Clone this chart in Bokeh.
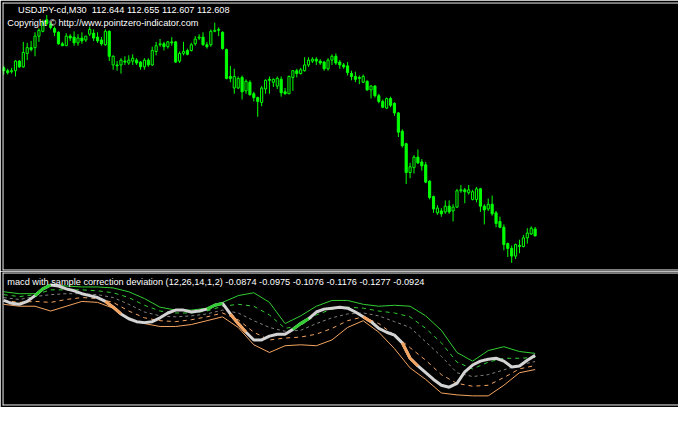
from bokeh.plotting import figure
from bokeh.layouts import column
from bokeh.models import Range1d, Span, Label, ColumnDataSource
from bokeh.embed import file_html
from bokeh.resources import INLINE

# ---------------- data ----------------
title_text = "USDJPY-cd,M30\u00a0 112.644 112.655 112.607 112.608"
copyright_text = "Copyright \u00a9 http://www.pointzero-indicator.com"
osc_label = ("macd with sample correction deviation (12,26,14,1,2) "
             "-0.0874 -0.0975 -0.1076 -0.1176 -0.1277 -0.0924")

opens = [113.483,113.468,113.463,113.468,113.518,113.488,113.558,113.588,113.588,113.648,
113.673,113.733,113.708,113.688,113.668,113.608,113.598,113.648,113.643,113.613,
113.638,113.628,113.658,113.663,113.643,113.628,113.603,113.673,113.498,113.498,
113.498,113.518,113.508,113.518,113.523,113.513,113.488,113.523,113.498,113.568,
113.603,113.608,113.593,113.618,113.618,113.518,113.558,113.573,113.573,113.608,
113.638,113.643,113.603,113.603,113.673,113.678,113.668,113.578,113.438,113.378,
113.378,113.433,113.363,113.408,113.348,113.328,113.303,113.373,113.423,113.408,
113.388,113.423,113.358,113.348,113.433,113.468,113.453,113.468,113.498,113.518,
113.528,113.518,113.513,113.478,113.523,113.543,113.513,113.498,113.493,113.453,
113.438,113.433,113.408,113.413,113.368,113.388,113.338,113.308,113.273,113.323,
113.298,113.248,113.153,113.088,112.938,112.963,113.018,112.993,112.978,112.893,
112.813,112.728,112.738,112.733,112.763,112.738,112.758,112.843,112.848,112.833,
112.798,112.798,112.853,112.763,112.748,112.773,112.728,112.683,112.653,112.568,
112.543,112.503,112.558,112.553,112.598,112.618,112.644]

highs = [113.493,113.478,113.483,113.523,113.523,113.618,113.613,113.623,113.668,113.688,
113.733,113.758,113.723,113.698,113.673,113.618,113.663,113.658,113.673,113.658,
113.668,113.648,113.698,113.683,113.668,113.643,113.683,113.678,113.548,113.518,
113.533,113.543,113.548,113.553,113.533,113.518,113.533,113.533,113.593,113.618,
113.633,113.618,113.623,113.643,113.623,113.568,113.618,113.583,113.613,113.648,
113.658,113.668,113.618,113.683,113.718,113.693,113.673,113.583,113.493,113.478,
113.438,113.443,113.423,113.418,113.358,113.333,113.388,113.423,113.438,113.428,
113.438,113.438,113.378,113.443,113.468,113.478,113.483,113.538,113.538,113.538,
113.538,113.528,113.518,113.533,113.553,113.558,113.523,113.508,113.513,113.468,
113.463,113.443,113.448,113.418,113.393,113.393,113.348,113.318,113.328,113.333,
113.303,113.253,113.163,113.093,112.988,113.028,113.058,113.008,112.993,112.898,
112.818,112.768,112.753,112.793,112.793,112.773,112.853,112.873,112.858,112.873,
112.848,112.863,112.858,112.773,112.803,112.818,112.738,112.708,112.668,112.573,
112.558,112.568,112.588,112.613,112.648,112.658,112.655]

lows = [113.448,113.448,113.453,113.438,113.483,113.483,113.523,113.568,113.543,113.618,
113.668,113.703,113.683,113.648,113.603,113.598,113.598,113.623,113.598,113.598,
113.608,113.618,113.648,113.623,113.613,113.598,113.598,113.518,113.473,113.468,
113.453,113.498,113.498,113.498,113.498,113.473,113.473,113.488,113.493,113.548,
113.593,113.573,113.583,113.598,113.508,113.508,113.548,113.548,113.568,113.598,
113.628,113.598,113.583,113.593,113.668,113.648,113.578,113.423,113.408,113.348,
113.373,113.318,113.348,113.338,113.308,113.228,113.283,113.348,113.348,113.383,
113.373,113.333,113.343,113.348,113.363,113.433,113.448,113.463,113.488,113.508,
113.498,113.498,113.468,113.468,113.498,113.498,113.478,113.478,113.443,113.418,
113.408,113.398,113.403,113.363,113.323,113.328,113.298,113.273,113.268,113.278,
113.233,113.123,113.068,112.878,112.908,112.933,112.983,112.948,112.883,112.798,
112.728,112.718,112.708,112.723,112.723,112.683,112.753,112.833,112.778,112.823,
112.793,112.783,112.733,112.668,112.738,112.713,112.653,112.648,112.533,112.498,
112.468,112.488,112.518,112.548,112.568,112.613,112.607]

closes = [113.468,113.458,113.468,113.518,113.488,113.563,113.588,113.578,113.648,113.678,
113.718,113.713,113.693,113.668,113.608,113.598,113.648,113.638,113.613,113.638,
113.623,113.648,113.683,113.638,113.623,113.608,113.673,113.543,113.543,113.493,
113.523,113.513,113.523,113.533,113.508,113.488,113.523,113.498,113.573,113.598,
113.608,113.593,113.618,113.613,113.513,113.558,113.568,113.553,113.603,113.633,
113.643,113.603,113.593,113.673,113.678,113.683,113.583,113.428,113.428,113.438,
113.428,113.358,113.413,113.343,113.328,113.308,113.378,113.418,113.418,113.423,
113.428,113.353,113.348,113.438,113.468,113.453,113.473,113.498,113.523,113.528,
113.518,113.508,113.478,113.523,113.543,113.508,113.498,113.488,113.458,113.438,
113.423,113.428,113.438,113.368,113.388,113.338,113.308,113.278,113.323,113.288,
113.248,113.148,113.078,112.938,112.968,113.018,112.988,112.973,112.888,112.808,
112.748,112.753,112.723,112.763,112.733,112.758,112.843,112.848,112.838,112.848,
112.838,112.853,112.763,112.743,112.773,112.723,112.673,112.653,112.563,112.543,
112.503,112.563,112.553,112.598,112.623,112.648,112.608]

bars = list(range(len(closes)))

# oscillator main line, sampled every 2 bars
main_bars = list(range(0, 137, 2))
macd_main = [0.0444,0.0372,0.0348,0.0420,0.0564,0.0732,0.0828,0.0804,0.0732,0.0684,
0.0612,0.0564,0.0516,0.0420,0.0276,0.0108,-0.0012,-0.0084,-0.0108,-0.0084,
0.0012,0.0132,0.0204,0.0204,0.0156,0.0180,0.0228,0.0324,0.0372,0.0108,
-0.0132,-0.0348,-0.0540,-0.0540,-0.0444,-0.0396,-0.0396,-0.0276,-0.0132,-0.0012,
0.0156,0.0228,0.0252,0.0276,0.0252,0.0156,0.0036,-0.0084,-0.0252,-0.0348,
-0.0420,-0.0612,-0.0996,-0.1188,-0.1356,-0.1524,-0.1668,-0.1716,-0.1620,-0.1332,
-0.1164,-0.1068,-0.1020,-0.0996,-0.1068,-0.1212,-0.1188,-0.1044,-0.0924]

# deviation bands, sampled every 4 bars
band_bars = list(range(0, 137, 4))
band_up2 = [0.0660,0.0612,0.0612,0.0828,0.0804,0.0780,0.0780,0.0756,0.0660,0.0492,
0.0276,0.0204,0.0204,0.0252,0.0396,0.0564,0.0636,0.0396,-0.0132,0.0060,
0.0300,0.0444,0.0444,0.0348,0.0300,0.0324,0.0300,0.0060,-0.0300,-0.0852,
-0.1068,-0.0804,-0.0708,-0.0828,-0.0874]
band_up1 = [0.0588,0.0540,0.0588,0.0708,0.0708,0.0708,0.0684,0.0636,0.0516,0.0324,
0.0180,0.0132,0.0132,0.0180,0.0300,0.0348,0.0300,0.0084,-0.0252,-0.0180,
0.0084,0.0228,0.0276,0.0252,0.0180,0.0132,0.0036,-0.0252,-0.0612,-0.1092,
-0.1260,-0.1092,-0.0996,-0.0996,-0.0975]
band_mid = [0.0516,0.0468,0.0540,0.0588,0.0612,0.0612,0.0588,0.0516,0.0348,0.0156,
0.0060,0.0036,0.0060,0.0108,0.0204,0.0132,-0.0060,-0.0228,-0.0324,-0.0300,
-0.0132,0.0012,0.0108,0.0132,0.0060,-0.0084,-0.0228,-0.0588,-0.0948,-0.1356,
-0.1452,-0.1404,-0.1284,-0.1164,-0.1076]
band_dn1 = [0.0444,0.0396,0.0420,0.0396,0.0468,0.0516,0.0492,0.0396,0.0180,0.0012,
-0.0060,-0.0084,-0.0036,0.0036,0.0132,-0.0036,-0.0348,-0.0540,-0.0492,-0.0468,
-0.0396,-0.0252,-0.0060,0.0036,-0.0132,-0.0420,-0.0732,-0.1044,-0.1404,-0.1620,
-0.1692,-0.1668,-0.1476,-0.1260,-0.1176]
band_dn2 = [0.0348,0.0300,0.0300,0.0180,0.0300,0.0420,0.0396,0.0252,-0.0012,-0.0132,
-0.0204,-0.0204,-0.0156,-0.0060,0.0036,-0.0228,-0.0660,-0.0852,-0.0684,-0.0660,
-0.0684,-0.0540,-0.0228,-0.0060,-0.0348,-0.0756,-0.1236,-0.1524,-0.1860,-0.1908,
-0.1932,-0.1932,-0.1668,-0.1356,-0.1277]

# bar spans where the main line is drawn coloured
green_spans = [(8, 12), (52, 56), (74, 78)]
orange_spans = [(26, 30), (58, 62), (92, 94), (102, 106)]

# ---------------- layout ----------------
W = 678
TOP_H, BOT_H = 271, 136
LEFT = 2
x_range = Range1d(-0.325, 172.7)
FRAME_W = W - LEFT
DPX = (x_range.end - x_range.start) / FRAME_W

LIME = "#00FF00"
GREEN = "#32CD32"
ORANGE = "#F4A460"
GREY = "#808080"
MAIN = "#D3D3D3"
FONT = "Liberation Sans"
FS = "9.2px"


def xpix(px):
    return x_range.start + (px - LEFT) * DPX


def make_fig(h, yr, top_b, bot_b):
    f = figure(width=W, height=h, output_backend="svg", toolbar_location=None,
               x_range=x_range, y_range=yr, x_axis_location=None, y_axis_location=None,
               min_border_left=LEFT, min_border_right=0, min_border_top=top_b,
               min_border_bottom=bot_b, background_fill_color="black",
               border_fill_color="black", outline_line_color=None)
    f.grid.visible = False
    return f


def add_border(f, yr, frame_h):
    dpy = (yr.end - yr.start) / frame_h
    for loc, dim in ((yr.end - 0.5 * dpy, "width"), (yr.start + 0.5 * dpy, "width"),
                     (x_range.start + 0.5 * DPX, "height")):
        f.add_layout(Span(location=loc, dimension=dim, line_color="white", line_width=1))


# top: candles
ytop = Range1d(112.428, 113.823)
top = make_fig(TOP_H, ytop, 2, 1)
TOP_FRAME_H = TOP_H - 3


def ytop_pix(py):
    return ytop.end - (py - 2) / TOP_FRAME_H * (ytop.end - ytop.start)


src = ColumnDataSource(dict(
    x=bars, o=opens, h=highs, l=lows, c=closes,
    top=[max(a, b) for a, b in zip(opens, closes)],
    bot=[min(a, b) for a, b in zip(opens, closes)],
    fill=["black" if c > o else LIME for o, c in zip(opens, closes)],
))
top.segment("x", "h", "x", "l", source=src, line_color=LIME, line_width=1)
top.vbar(x="x", top="top", bottom="bot", width=0.55, source=src,
         fill_color="fill", line_color=LIME, line_width=1)
add_border(top, ytop, TOP_FRAME_H)

top.add_layout(Label(x=xpix(17.6), y=ytop_pix(9.6), text=title_text, text_color="white",
                     text_font=FONT, text_font_size=FS, text_baseline="middle"))
top.add_layout(Label(x=xpix(6.8), y=ytop_pix(22.6), text=copyright_text, text_color="white",
                     text_font=FONT, text_font_size=FS, text_baseline="middle"))

# bottom: oscillator
ybot = Range1d(-0.2172, 0.114)
bot = make_fig(BOT_H, ybot, 1, 2)
BOT_FRAME_H = BOT_H - 3


def ybot_pix(py):
    return ybot.end - (py - 1) / BOT_FRAME_H * (ybot.end - ybot.start)


bot.line(band_bars, band_up2, line_color=GREEN, line_width=1)
bot.line(band_bars, band_up1, line_color=GREEN, line_width=1, line_dash="4 4")
bot.line(band_bars, band_mid, line_color=GREY, line_width=1, line_dash="3 3")
bot.line(band_bars, band_dn1, line_color=ORANGE, line_width=1, line_dash="4 4")
bot.line(band_bars, band_dn2, line_color=ORANGE, line_width=1)
bot.line(main_bars, macd_main, line_color=MAIN, line_width=3)


def span_pts(a, b):
    xs = [x for x in main_bars if a <= x <= b]
    ys = [macd_main[main_bars.index(x)] for x in xs]
    return xs, ys


for a, b in green_spans:
    xs, ys = span_pts(a, b)
    bot.line(xs, ys, line_color=GREEN, line_width=3)
for a, b in orange_spans:
    xs, ys = span_pts(a, b)
    bot.line(xs, ys, line_color=ORANGE, line_width=3)

add_border(bot, ybot, BOT_FRAME_H)

bot.add_layout(Label(x=xpix(6.8), y=ybot_pix(10.4), text=osc_label, text_color="white",
                     text_font=FONT, text_font_size=FS, text_baseline="middle"))

page = column(top, bot, spacing=0)
open("out.html", "w").write(file_html(page, INLINE))
